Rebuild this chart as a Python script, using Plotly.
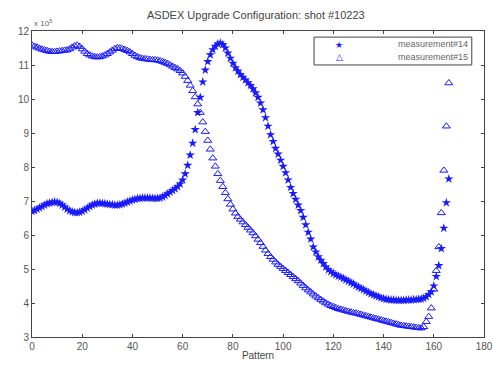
import plotly.graph_objects as go

# x index (0..166) and values in units of 1e5
x_vals = list(range(0, 167))

meas14 = [
    6.70, 6.72, 6.76, 6.80, 6.84, 6.88, 6.92, 6.94, 6.96, 6.97,
    6.96, 6.93, 6.88, 6.82, 6.76, 6.71, 6.68, 6.66, 6.66, 6.67,
    6.70, 6.74, 6.79, 6.84, 6.88, 6.91, 6.93, 6.94, 6.93, 6.92,
    6.91, 6.90, 6.89, 6.88, 6.88, 6.89, 6.91, 6.94, 6.97, 7.00,
    7.03, 7.05, 7.07, 7.08, 7.09, 7.09, 7.09, 7.09, 7.08, 7.08,
    7.08, 7.09, 7.12, 7.16, 7.21, 7.26, 7.31, 7.36, 7.42, 7.50,
    7.62, 7.80, 8.05, 8.35, 8.70, 9.10, 9.60, 10.05, 10.50, 10.85,
    11.10, 11.30, 11.45, 11.55, 11.62, 11.65, 11.60, 11.50, 11.35, 11.20,
    11.05, 10.92, 10.82, 10.72, 10.64, 10.56, 10.48, 10.40, 10.30, 10.18,
    10.05, 9.88, 9.68, 9.45, 9.20, 8.95, 8.75, 8.55, 8.38, 8.20,
    8.02, 7.83, 7.62, 7.40, 7.22, 7.05, 6.88, 6.72, 6.52, 6.30,
    6.08, 5.88, 5.65, 5.50, 5.36, 5.26, 5.16, 5.06, 4.98, 4.92,
    4.87, 4.83, 4.79, 4.76, 4.72, 4.68, 4.64, 4.60, 4.56, 4.51,
    4.47, 4.43, 4.39, 4.35, 4.31, 4.27, 4.24, 4.21, 4.18, 4.15,
    4.13, 4.11, 4.10, 4.09, 4.09, 4.08, 4.08, 4.08, 4.08, 4.09,
    4.09, 4.09, 4.10, 4.10, 4.11, 4.12, 4.14, 4.18, 4.25, 4.33,
    4.50, 4.78, 5.10, 5.60, 6.20, 6.95, 7.65,
]

meas15 = [
    11.58, 11.55, 11.52, 11.49, 11.46, 11.44, 11.42, 11.40, 11.39, 11.39,
    11.40, 11.41, 11.42, 11.43, 11.44, 11.47, 11.52, 11.56, 11.58, 11.54,
    11.47, 11.40, 11.33, 11.29, 11.26, 11.24, 11.23, 11.24, 11.26, 11.29,
    11.33, 11.38, 11.43, 11.48, 11.50, 11.50, 11.48, 11.45, 11.42, 11.38,
    11.33, 11.28, 11.24, 11.21, 11.19, 11.18, 11.17, 11.16, 11.15, 11.15,
    11.14, 11.12, 11.10, 11.07, 11.04, 11.00, 10.96, 10.92, 10.88, 10.83,
    10.76, 10.66, 10.54, 10.40, 10.24, 10.06, 9.85, 9.60, 9.32, 9.04,
    8.78, 8.52, 8.26, 8.02, 7.80, 7.60, 7.42, 7.24, 7.06, 6.90,
    6.76, 6.64, 6.54, 6.46, 6.38, 6.30, 6.22, 6.14, 6.06, 5.97,
    5.87, 5.77, 5.66, 5.55, 5.45, 5.36, 5.28, 5.20, 5.13, 5.07,
    5.01, 4.95, 4.89, 4.83, 4.77, 4.71, 4.65, 4.58, 4.51, 4.44,
    4.38, 4.32, 4.26, 4.20, 4.15, 4.10, 4.05, 4.00, 3.96, 3.92,
    3.89, 3.86, 3.83, 3.81, 3.79, 3.77, 3.75, 3.73, 3.71, 3.70,
    3.68, 3.66, 3.64, 3.62, 3.60, 3.58, 3.56, 3.54, 3.52, 3.50,
    3.48, 3.46, 3.44, 3.42, 3.40, 3.38, 3.36, 3.34, 3.33, 3.32,
    3.31, 3.30, 3.29, 3.28, 3.27, 3.26, 3.30, 3.45, 3.60, 3.85,
    4.40, 4.95, 5.65, 6.65, 7.90, 9.20, 10.47,
]

x_ticks = [0, 20, 40, 60, 80, 100, 120, 140, 160, 180]
y_ticks = [3, 4, 5, 6, 7, 8, 9, 10, 11, 12]

title_text = "ASDEX Upgrade Configuration: shot #10223"
x_label = "Pattern"
names = ["measurement#14", "measurement#15"]

blue = "#1a1aff"
font_family = "Liberation Sans"

fig = go.Figure()
fig.add_trace(go.Scatter(
    x=x_vals, y=meas14, mode="markers", name=names[0], showlegend=False,
    marker=dict(symbol="star", size=7, color=blue, line=dict(width=0)),
))
fig.add_trace(go.Scatter(
    x=x_vals, y=meas15, mode="markers", name=names[1], showlegend=False,
    marker=dict(symbol="triangle-up-open", size=7, color=blue, line=dict(width=1, color=blue)),
))

axis_common = dict(
    showgrid=False, zeroline=False, showline=True, linecolor="#444", linewidth=1,
    mirror="ticks", ticks="inside", ticklen=3, tickcolor="#444", automargin=False,
    tickfont=dict(family=font_family, size=10, color="#555"),
)

# compact legend like the reference (box + texts)
lx0, lx1, ly0, ly1 = 0.624, 0.973, 0.889, 0.980
annotations = [
    dict(text="x 10<sup>5</sup>", xref="paper", yref="paper", x=0.0, y=1.0,
         xanchor="left", yanchor="bottom", showarrow=False, yshift=1,
         font=dict(family=font_family, size=8, color="#666")),
    dict(text="★", xref="paper", yref="paper", x=0.68, y=0.956, showarrow=False,
         xanchor="center", yanchor="middle", font=dict(size=9, color=blue)),
    dict(text="△", xref="paper", yref="paper", x=0.68, y=0.918, showarrow=False,
         xanchor="center", yanchor="middle", font=dict(size=9, color=blue)),
    dict(text=names[0], xref="paper", yref="paper", x=0.968, y=0.956, showarrow=False,
         xanchor="right", yanchor="middle", font=dict(family=font_family, size=9, color="#666")),
    dict(text=names[1], xref="paper", yref="paper", x=0.968, y=0.916, showarrow=False,
         xanchor="right", yanchor="middle", font=dict(family=font_family, size=9, color="#666")),
]

fig.update_layout(
    width=493, height=367,
    margin=dict(l=32, r=9, t=31, b=30),
    paper_bgcolor="white", plot_bgcolor="white",
    title=dict(text=title_text, x=0.519, xanchor="center", y=0.959, yanchor="middle",
               font=dict(family=font_family, size=11, color="#444")),
    xaxis=dict(range=[0, 180], tickvals=x_ticks, **axis_common,
               title=dict(text=x_label, standoff=0, font=dict(family=font_family, size=10, color="#444"))),
    yaxis=dict(range=[3, 12], tickvals=y_ticks, **axis_common),
    showlegend=False,
    shapes=[dict(type="rect", xref="paper", yref="paper", x0=lx0, x1=lx1, y0=ly0, y1=ly1,
                 line=dict(color="#444", width=1), fillcolor="white", layer="below")],
    annotations=annotations,
)

# remove the default page margin so the figure fills the window exactly
fig.write_html("out.html", config={"displayModeBar": False},
               post_script="document.body.style.margin='0';")
